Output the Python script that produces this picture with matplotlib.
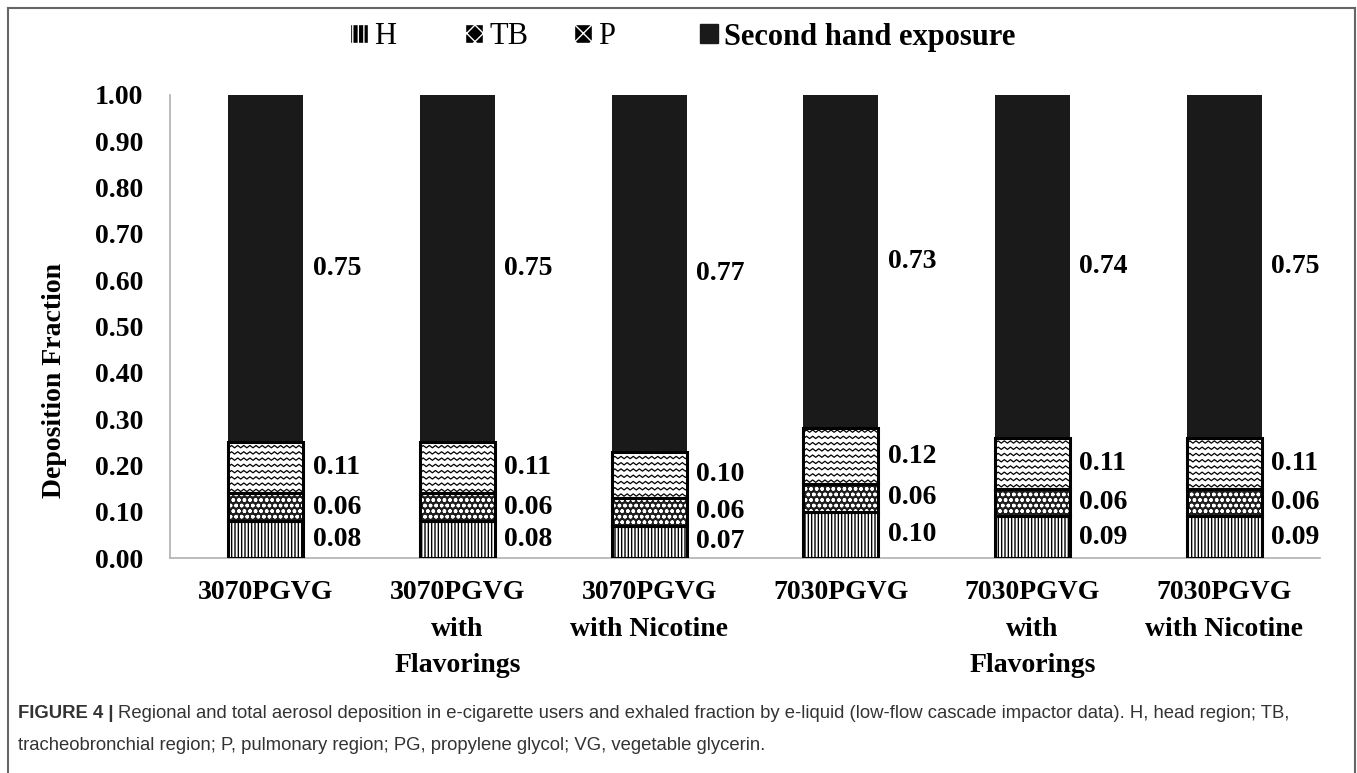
import numpy as np
import matplotlib
matplotlib.use("Agg")
import matplotlib.pyplot as plt
from matplotlib.patches import Patch
from matplotlib.lines import Line2D

categories = ["3070PGVG", "3070PGVG\nwith\nFlavorings", "3070PGVG\nwith Nicotine",
              "7030PGVG", "7030PGVG\nwith\nFlavorings", "7030PGVG\nwith Nicotine"]
H = [0.08, 0.08, 0.07, 0.10, 0.09, 0.09]
TB = [0.06, 0.06, 0.06, 0.06, 0.06, 0.06]
P = [0.11, 0.11, 0.10, 0.12, 0.11, 0.11]
SECOND = [0.75, 0.75, 0.77, 0.73, 0.74, 0.75]
yticks = [0.0, 0.1, 0.2, 0.3, 0.4, 0.5, 0.6, 0.7, 0.8, 0.9, 1.0]
legend_labels = ["H", "TB", "P", "Second hand exposure"]

SERIF = ["Liberation Serif", "DejaVu Serif"]
plt.rcParams["font.family"] = SERIF
plt.rcParams["hatch.linewidth"] = 1.0

W, Hpx = 1357, 773
fig = plt.figure(figsize=(W / 100, Hpx / 100), dpi=100)
ax = fig.add_axes([170 / W, 1 - 558 / Hpx, 1150 / W, 463 / Hpx])

x = np.arange(len(categories))
bw = 0.39
H_a, TB_a, P_a, S_a = map(np.array, (H, TB, P, SECOND))
b_tb = H_a
b_p = H_a + TB_a
b_s = H_a + TB_a + P_a

ax.bar(x, H_a, bw, facecolor="white", edgecolor="black", hatch="|||||", linewidth=0, zorder=2)
ax.bar(x, TB_a, bw, bottom=b_tb, facecolor="#1e1e1e", edgecolor="white", hatch="ooo", linewidth=0, zorder=2)
p_bars = ax.bar(x, P_a, bw, bottom=b_p, facecolor="white", edgecolor="black", linewidth=0, zorder=2)
ax.bar(x, S_a, bw, bottom=b_s, facecolor="#1a1a1a", edgecolor="#1a1a1a", linewidth=0, zorder=2)

ax.bar(x, H_a, bw, fill=False, edgecolor="black", linewidth=2.2, zorder=4)
ax.bar(x, TB_a, bw, bottom=b_tb, fill=False, edgecolor="black", linewidth=2.2, zorder=4)
ax.bar(x, P_a, bw, bottom=b_p, fill=False, edgecolor="black", linewidth=2.2, zorder=4)

# zigzag pattern for P
for patch in p_bars.patches:
    x0, y0 = patch.get_x(), patch.get_y()
    pw, ph = patch.get_width(), patch.get_height()
    per = 0.032
    amp = 0.005
    xs = np.arange(x0 - per, x0 + pw + per, per / 2)
    ys_off = np.where(np.arange(len(xs)) % 2 == 0, 0, amp)
    yy = y0 - 0.01
    while yy < y0 + ph + 0.01:
        ln = Line2D(xs, yy + ys_off, color="black", linewidth=0.9, zorder=3)
        ax.add_line(ln)
        ln.set_clip_path(patch)
        yy += 0.0135

ax.set_xlim(-0.5, len(categories) - 0.5)
ax.set_ylim(0, 1.0)
ax.set_yticks(yticks)
ax.set_yticklabels([f"{v:.2f}" for v in yticks], fontsize=20, fontweight="bold")
ax.set_xticks(x)
ax.set_xticklabels(categories, fontsize=20, fontweight="bold", linespacing=1.6)
ax.tick_params(axis="y", length=0, pad=19)
ax.tick_params(axis="x", length=0, pad=16)
for s in ["top", "right"]:
    ax.spines[s].set_visible(False)
for s in ["left", "bottom"]:
    ax.spines[s].set_color("#b0b0b0")
    ax.spines[s].set_linewidth(1.2)

dx = bw / 2 + 0.05
for i in range(len(categories)):
    segs = [(H_a[i], 0.0), (TB_a[i], b_tb[i]), (P_a[i], b_p[i]), (S_a[i], b_s[i])]
    for val, bot in segs:
        top = min(bot + val, 1.0)
        ax.text(x[i] + dx, (bot + top) / 2, f"{val:.2f}", ha="left", va="center",
                fontsize=20, fontweight="bold", zorder=5)

fig.text(55 / W, 1 - 381 / Hpx, "Deposition Fraction", rotation=90, ha="center", va="center",
         fontsize=20, fontweight="bold")

# legend entries placed individually
handles = [
    Patch(facecolor="black", edgecolor="white", hatch="|||"),
    Patch(facecolor="black", edgecolor="white", hatch="xx"),
    Patch(facecolor="black", edgecolor="white", hatch="\\\\//"),
    Patch(facecolor="#1a1a1a", edgecolor="#1a1a1a"),
]
icon_x = [350, 465, 574, 700]
weights = ["normal", "normal", "normal", "bold"]
for h, lab, ix, wt in zip(handles, legend_labels, icon_x, weights):
    fig.legend([h], [lab], loc="center left", bbox_to_anchor=(ix / W, 1 - 37 / Hpx),
               frameon=False, prop={"family": SERIF, "weight": wt, "size": 22},
               handlelength=0.6, handleheight=0.6, handletextpad=0.2,
               borderpad=0, borderaxespad=0)

fc = "#666666"
fig.add_artist(Line2D([8 / W, 8 / W], [0, 1 - 8 / Hpx], transform=fig.transFigure, color=fc, linewidth=1.5))
fig.add_artist(Line2D([1355 / W, 1355 / W], [0, 1 - 8 / Hpx], transform=fig.transFigure, color=fc, linewidth=1.5))
fig.add_artist(Line2D([8 / W, 1355 / W], [1 - 8 / Hpx, 1 - 8 / Hpx], transform=fig.transFigure, color=fc, linewidth=1.5))

CAP = ["Liberation Sans Narrow", "Liberation Sans", "DejaVu Sans"]
t1 = fig.text(18 / W, 1 - 713 / Hpx, "FIGURE 4 |", ha="left", va="center", fontsize=13.3,
              fontweight="bold", family=CAP, color="#333333")
fig.canvas.draw()
bb = t1.get_window_extent()
fig.text((bb.x1 + 4) / W, 1 - 713 / Hpx,
         "Regional and total aerosol deposition in e-cigarette users and exhaled fraction by e-liquid "
         "(low-flow cascade impactor data). H, head region; TB,",
         ha="left", va="center", fontsize=13.3, family=CAP, color="#333333")
fig.text(18 / W, 1 - 745 / Hpx,
         "tracheobronchial region; P, pulmonary region; PG, propylene glycol; VG, vegetable glycerin.",
         ha="left", va="center", fontsize=13.3, family=CAP, color="#333333")

fig.savefig("out.png", dpi=100)
